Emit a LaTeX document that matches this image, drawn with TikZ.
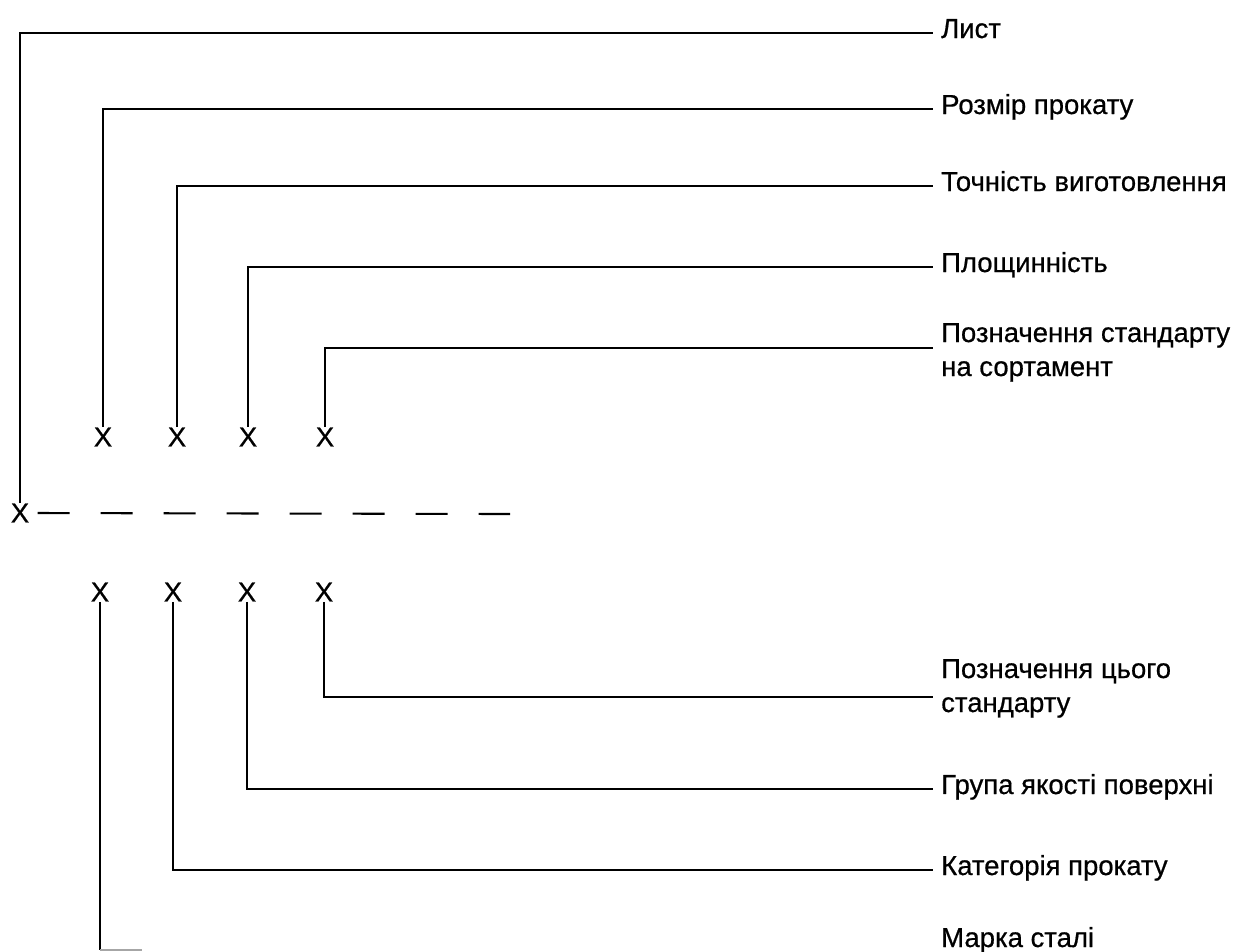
\documentclass[tikz,border=0pt]{standalone}
\usepackage{fontspec}
\setmainfont{Liberation Sans}[FakeBold=0.6]
\begin{document}
\begin{tikzpicture}[x=1pt,y=-1pt,
  conn/.style={line width=2.1pt, line join=miter, shorten >=8pt},
  dashline/.style={line width=2.1pt, dash pattern=on 32pt off 31pt},
  xmark/.style={inner sep=0pt, outer sep=0.5pt, font=\fontsize{27.5}{34}\selectfont},
  lbl/.style={inner sep=0pt, anchor=base west, align=left, font=\fontsize{27.5}{34}\selectfont}]
\useasboundingbox (0,0) rectangle (1234,951);

% X marks
\node[xmark] (xL) at (20,513) {X};
\node[xmark] (u1) at (103,437) {X};
\node[xmark] (u2) at (177,437) {X};
\node[xmark] (u3) at (248,437) {X};
\node[xmark] (u4) at (325,437) {X};
\node[xmark] (d1) at (100,592) {X};
\node[xmark] (d2) at (173,592) {X};
\node[xmark] (d3) at (247,592) {X};
\node[xmark] (d4) at (324,592) {X};

% labels (base = baseline of the last line)
\node[lbl] (t1) at (941,38) {Лист};
\node[lbl] (t2) at (941,114) {Розмір прокату};
\node[lbl] (t3) at (941,191) {Точність виготовлення};
\node[lbl] (t4) at (941,272) {Площинність};
\node[lbl] (t5) at (941,376) {Позначення стандарту\\на сортамент};
\node[lbl] (b1) at (941,712) {Позначення цього\\стандарту};
\node[lbl] (b2) at (941,794) {Група якості поверхні};
\node[lbl] (b3) at (941,875) {Категорія прокату};
\node[lbl] (b4) at (941,947) {Марка сталі};

% connectors
\draw[conn] (xL.north) |- ([yshift=5pt]t1.base west);
\draw[conn] (u1.north) |- ([yshift=5pt]t2.base west);
\draw[conn] (u2.north) |- ([yshift=5pt]t3.base west);
\draw[conn] (u3.north) |- ([yshift=5pt]t4.base west);
\draw[conn] (u4.north) |- ([yshift=28pt]t5.base west);
\draw[conn] (d4.south) |- ([yshift=15pt]b1.base west);
\draw[conn] (d3.south) |- ([yshift=5pt]b2.base west);
\draw[conn] (d2.south) |- ([yshift=5pt]b3.base west);
\coordinate (mk) at (100,950);
\coordinate (mkend) at (142,950);
\draw[line width=2.1pt] (d1.south) -- (mk);
\draw[line width=1.2pt, black!35] (mk) -- (mkend);

% dashed line
\coordinate (dend) at (510,514);
\draw[dashline, shorten <=8pt] (xL.east) -- (dend);
\end{tikzpicture}
\end{document}
